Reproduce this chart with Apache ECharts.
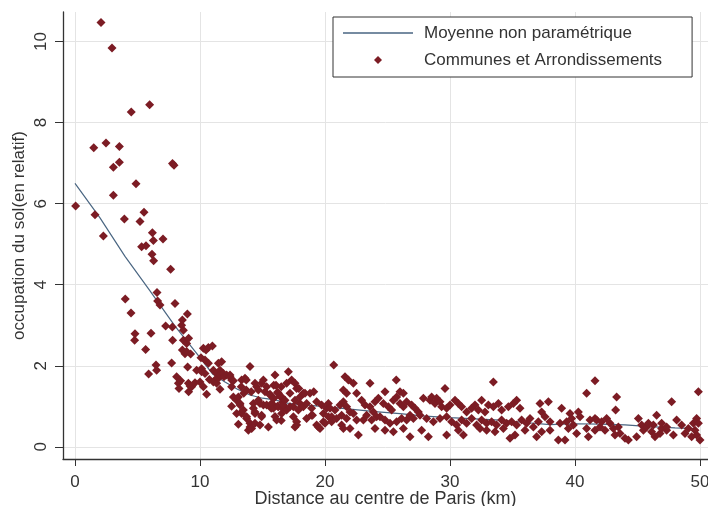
<!DOCTYPE html>
<html>
<head>
<meta charset="utf-8">
<script src="https://cdn.jsdelivr.net/npm/echarts@6/dist/echarts.min.js"></script>
<style>
html,body{margin:0;padding:0;background:#fff;}
#chart{width:708px;height:506px;}
</style>
</head>
<body>
<div id="chart"></div>
<script>
// ---- Data (distance km, relative land occupation) ----
const xTicks = [0, 10, 20, 30, 40, 50];
const yTicks = [0, 2, 4, 6, 8, 10];

const meanDistance   = [0, 2, 4, 6, 8, 10, 11, 12, 13, 14, 15, 16, 17, 18, 20, 22, 24, 26, 28, 30, 32, 34, 36, 38, 40, 42, 44, 46, 48, 49.7];
const meanOccupation = [6.5, 5.65, 4.7, 3.85, 2.98, 2.2, 1.8, 1.6, 1.42, 1.28, 1.2, 1.16, 1.08, 1.04, 0.99, 0.93, 0.87, 0.82, 0.76, 0.72, 0.69, 0.66, 0.6, 0.55, 0.57, 0.56, 0.54, 0.5, 0.47, 0.45];

const communes0to10 = [
[0.05,5.94],[1.5,7.38],[1.6,5.73],[2.08,10.47],[2.27,5.2],[2.48,7.5],[2.96,9.84],[3.07,6.9],[3.07,6.21],[3.55,7.41],[3.55,7.02],[3.95,5.62],[4.02,3.65],
[4.48,3.3],[4.5,8.26],[4.77,2.63],[4.8,2.79],[4.88,6.49],[5.2,5.56],[5.33,4.94],[5.52,5.79],[5.65,2.4],[5.68,4.96],[5.89,1.8],[5.97,8.44],[6.08,2.8],
[6.16,4.75],[6.19,5.28],[6.27,5.09],[6.29,4.59],[6.48,2.02],[6.53,1.89],[6.56,3.81],[6.61,3.6],[6.8,3.5],[7.04,5.13],[7.25,2.98],[7.65,4.38],[7.73,2.07],
[7.79,2.96],[7.81,2.63],[7.8,6.99],[7.92,6.95],[8.0,3.54],[8.13,1.73],[8.27,1.57],[8.32,1.44],[8.45,1.63],[8.53,3.0],[8.59,3.13],[8.59,2.39],[8.67,2.88],
[8.67,2.63],[8.8,2.3],[8.93,2.55],[8.93,2.35],[8.99,3.28],[9.01,1.97],[9.07,1.57],[9.09,2.68],[9.09,1.36],[9.2,1.5],[9.25,2.29],[9.33,1.48],[9.6,1.58],[9.73,1.89]
];
const communes10to20 = [
[10.0,1.6],[10.08,2.2],[10.13,1.93],[10.13,1.85],[10.27,2.43],[10.27,1.48],[10.4,2.14],[10.4,1.81],[10.48,2.39],[10.53,1.3],[10.67,2.06],[10.67,2.45],
[10.75,1.66],[10.99,2.49],[11.07,1.6],[11.07,1.89],[11.2,1.65],[11.33,1.81],[11.33,1.57],[11.47,2.06],[11.47,1.69],[11.6,1.89],[11.6,1.42],[11.6,1.77],
[11.73,2.1],[11.87,1.81],[11.92,1.73],[12.13,1.77],[12.4,1.77],[12.4,1.73],[12.53,1.48],[12.53,1.65],[12.53,1.0],[12.67,1.63],[12.67,1.23],[12.93,1.15],
[12.93,0.82],[13.07,1.23],[13.07,0.56],[13.2,1.03],[13.2,1.07],[13.33,0.82],[13.33,1.65],[13.33,0.86],[13.3,1.48],[13.47,0.91],[13.5,1.32],[13.6,1.69],
[13.7,1.65],[13.7,1.4],[13.73,0.7],[13.73,0.74],[13.87,0.41],[14.0,1.98],[14.0,0.49],[14.0,0.58],[14.1,1.36],[14.13,0.45],[14.27,1.07],[14.27,0.95],
[14.4,0.58],[14.4,0.86],[14.4,0.82],[14.4,1.57],[14.53,1.48],[14.67,1.15],[14.67,1.4],[14.8,0.54],[14.8,1.07],[14.93,0.78],[14.93,1.57],[14.93,0.74],
[15.07,1.03],[15.07,1.65],[15.2,1.36],[15.33,1.48],[15.33,1.03],[15.47,0.49],[15.6,1.3],[15.6,1.28],[15.7,0.95],[15.73,1.07],[15.8,1.05],[15.87,1.2],
[15.87,0.95],[15.9,1.2],[15.9,1.52],[16.0,1.77],[16.0,0.75],[16.08,1.52],[16.13,0.66],[16.2,1.35],[16.2,1.0],[16.27,1.32],[16.27,0.99],[16.4,1.25],
[16.5,0.65],[16.5,1.48],[16.53,1.23],[16.53,0.82],[16.6,1.1],[16.6,0.95],[16.67,1.03],[16.8,1.15],[16.93,1.57],[16.93,0.91],[17.07,1.85],[17.2,1.32],
[17.2,0.99],[17.33,1.65],[17.47,0.99],[17.47,0.74],[17.6,1.57],[17.6,1.15],[17.6,0.49],[17.73,1.44],[17.73,0.54],[17.73,0.62],[17.87,0.91],[17.9,1.44],
[18.0,1.23],[18.0,1.07],[18.27,1.32],[18.27,0.99],[18.4,1.32],[18.53,1.07],[18.53,0.7],[18.8,1.32],[18.93,0.95],[18.93,0.78],[19.0,0.78],[19.1,1.36],
[19.33,1.11],[19.33,0.54],[19.47,0.49],[19.6,0.45],[19.73,1.03],[19.87,0.62],[19.87,0.82],[20.0,0.58]
];
const communes20to30 = [
[20.13,0.95],[20.27,0.74],[20.27,1.07],[20.4,0.95],[20.53,0.74],[20.53,0.62],[20.7,2.02],[20.8,0.91],[20.93,0.7],[21.2,1.03],[21.33,0.78],[21.33,0.54],
[21.47,1.11],[21.47,1.4],[21.47,0.45],[21.6,1.73],[21.73,0.99],[21.73,0.7],[21.73,1.32],[21.87,1.65],[22.0,0.86],[22.0,0.45],[22.27,0.82],[22.27,1.57],
[22.53,0.66],[22.53,1.32],[22.67,0.29],[22.93,1.15],[23.07,0.66],[23.2,1.03],[23.33,0.78],[23.6,1.57],[23.6,0.99],[23.73,0.66],[23.87,0.86],[24.0,1.11],
[24.0,0.45],[24.13,0.74],[24.27,1.2],[24.4,0.74],[24.67,1.07],[24.8,1.36],[24.8,0.66],[24.8,0.41],[25.07,0.99],[25.2,0.58],[25.33,0.91],[25.47,1.15],
[25.47,0.37],[25.7,1.65],[25.73,1.23],[25.73,0.62],[26.0,1.07],[26.0,1.36],[26.13,0.7],[26.27,0.99],[26.27,1.32],[26.27,0.45],[26.53,1.11],[26.53,0.66],
[26.8,0.78],[26.8,0.25],[26.93,1.03],[27.07,0.7],[27.2,0.95],[27.47,0.86],[27.6,0.78],[27.73,0.41],[27.87,1.2],[28.13,0.7],[28.27,0.25],[28.4,1.15],
[28.53,1.23],[28.67,0.62],[28.8,1.07],[28.93,1.2],[29.2,1.11],[29.2,0.7],[29.33,0.99],[29.6,1.44],[29.73,0.95],[29.73,0.74],[29.73,0.29]
];
const communes30to40 = [
[30.0,1.03],[30.13,0.62],[30.4,1.15],[30.53,0.54],[30.67,1.07],[30.67,0.41],[30.93,0.99],[30.93,0.66],[31.07,0.29],[31.33,0.86],[31.33,0.58],[31.73,0.95],
[31.73,0.7],[32.0,1.03],[32.13,0.54],[32.27,0.91],[32.4,0.45],[32.53,1.15],[32.53,0.66],[32.8,0.86],[32.93,0.58],[32.93,0.41],[33.07,1.03],[33.33,0.62],
[33.47,1.6],[33.47,0.99],[33.6,0.37],[33.73,0.54],[33.87,1.07],[34.13,0.91],[34.13,0.66],[34.27,0.45],[34.53,0.58],[34.67,0.99],[34.8,0.21],[34.93,0.62],
[35.07,1.07],[35.2,0.29],[35.33,1.15],[35.33,0.54],[35.6,0.95],[35.73,0.66],[36.0,0.41],[36.13,0.58],[36.4,0.7],[36.67,0.49],[36.93,0.25],[37.07,0.62],
[37.2,1.07],[37.33,0.86],[37.33,0.37],[37.6,0.74],[37.87,1.11],[38.0,0.62],[38.0,0.41],[38.67,0.17],[38.8,0.58],[38.93,0.95],[39.2,0.17],[39.33,0.62],
[39.47,0.45],[39.6,0.82],[39.73,0.7],[39.87,0.54]
];
const communes40to50 = [
[40.13,0.33],[40.27,0.86],[40.4,0.74],[40.93,1.32],[40.93,0.45],[41.07,0.25],[41.2,0.66],[41.6,1.63],[41.6,0.7],[41.6,0.41],[41.73,0.66],[42.0,0.49],
[42.13,0.62],[42.4,0.41],[42.53,0.7],[42.8,0.58],[43.07,0.45],[43.2,0.29],[43.25,0.91],[43.33,1.23],[43.47,0.49],[43.6,0.33],[44.0,0.21],[44.27,0.17],
[44.93,0.25],[45.07,0.7],[45.33,0.54],[45.47,0.41],[45.73,0.49],[45.87,0.58],[46.13,0.37],[46.27,0.54],[46.4,0.25],[46.53,0.78],[46.8,0.33],[46.93,0.45],
[46.93,0.58],[47.33,0.41],[47.33,0.49],[47.73,1.11],[47.87,0.29],[48.13,0.66],[48.53,0.54],[48.8,0.33],[49.07,0.45],[49.33,0.25],[49.47,0.58],[49.6,0.41],
[49.73,0.7],[49.73,0.29],[49.87,1.36],[49.87,0.58],[50.0,0.17]
];

const lineName = 'Moyenne non paramétrique';
const scatterName = 'Communes et Arrondissements';
const xTitle = 'Distance au centre de Paris (km)';
const yTitle = 'occupation du sol(en relatif)';

// ---- Build ----
const meanLine = meanDistance.map((d, i) => [d, meanOccupation[i]]);
const communes = [].concat(communes0to10, communes10to20, communes20to30, communes30to40, communes40to50);

const FONT = 'Liberation Sans, Arial, sans-serif';
const chart = echarts.init(document.getElementById('chart'), null, {renderer: 'canvas'});

chart.setOption({
  animation: false,
  backgroundColor: '#ffffff',
  textStyle: {fontFamily: FONT},
  grid: {left: 63, top: 12, right: 0, bottom: 47, containLabel: false, outerBoundsMode: 'none'},
  legend: {
    orient: 'vertical',
    left: 333, top: 17,
    itemWidth: 70, itemHeight: 14, itemGap: 9,
    padding: [7, 30, 8, 10],
    backgroundColor: '#ffffff',
    borderColor: '#333333', borderWidth: 1, borderRadius: 0,
    textStyle: {fontSize: 17, color: '#333333', fontFamily: FONT, lineHeight: 18, padding: [0, 0, 0, 6]},
    data: [
      {name: lineName, icon: 'path://M0,0L0,0ZM70,14L70,14ZM0,6.3L70,6.3L70,7.7L0,7.7Z'},
      {name: scatterName, icon: 'path://M0,0L0,0ZM70,14L70,14ZM35,3L39,7L35,11L31,7Z'}
    ]
  },
  xAxis: {
    type: 'value', min: -0.96, max: 50.64,
    name: xTitle, nameLocation: 'middle', nameGap: 31, nameMoveOverlap: false,
    nameTextStyle: {fontSize: 18, color: '#333333', fontFamily: FONT},
    axisLine: {show: true, onZero: false, lineStyle: {color: '#333333', width: 1.3}},
    axisTick: {show: true, inside: false, length: 7, lineStyle: {color: '#333333'}, customValues: xTicks},
    axisLabel: {fontSize: 17, color: '#333333', margin: 15, fontFamily: FONT, customValues: xTicks},
    splitLine: {show: true, lineStyle: {color: '#e4e4e4', width: 1}}
  },
  yAxis: {
    type: 'value', min: -0.3, max: 10.73,
    name: yTitle, nameLocation: 'middle', nameGap: 35, nameMoveOverlap: false,
    nameTextStyle: {fontSize: 17, color: '#333333', fontFamily: FONT},
    axisLine: {show: true, onZero: false, lineStyle: {color: '#333333', width: 1.3}},
    axisTick: {show: true, inside: false, length: 8, lineStyle: {color: '#333333'}, customValues: yTicks},
    axisLabel: {fontSize: 17, color: '#333333', margin: 13, rotate: 90, fontFamily: FONT, customValues: yTicks},
    splitLine: {show: true, lineStyle: {color: '#e4e4e4', width: 1}}
  },
  series: [
    {
      name: lineName, type: 'line', data: meanLine,
      showSymbol: false, symbol: 'none', smooth: false,
      lineStyle: {color: '#4a6682', width: 1.2},
      itemStyle: {color: '#4a6682'},
      z: 2
    },
    {
      name: scatterName, type: 'scatter', data: communes,
      symbol: 'diamond', symbolSize: [9, 9],
      itemStyle: {color: '#7c1c24', opacity: 1},
      z: 3
    }
  ]
});
</script>
</body>
</html>
